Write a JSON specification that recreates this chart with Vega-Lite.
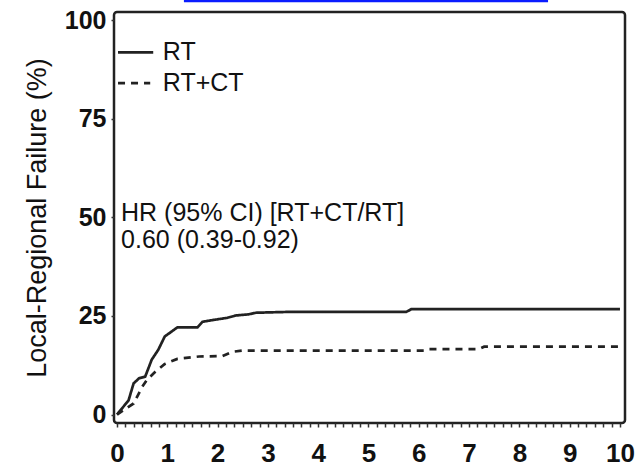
{
  "$schema": "https://vega.github.io/schema/vega-lite/v6.json",
  "width": 511,
  "height": 411,
  "autosize": {"type": "none"},
  "padding": {"left": 114, "top": 12, "right": 16, "bottom": 46},
  "background": "white",
  "config": {
    "view": {"stroke": "#222", "strokeWidth": 2.5, "cornerRadius": 3},
    "font": "Liberation Sans"
  },
  "datasets": {
    "curves": [
      {"group": "RT", "t": 0, "pct": 0},
      {"group": "RT", "t": 0.23, "pct": 3.6},
      {"group": "RT", "t": 0.33, "pct": 7.9},
      {"group": "RT", "t": 0.44, "pct": 9.2},
      {"group": "RT", "t": 0.56, "pct": 9.6},
      {"group": "RT", "t": 0.69, "pct": 13.9},
      {"group": "RT", "t": 0.82, "pct": 16.4},
      {"group": "RT", "t": 0.95, "pct": 19.8},
      {"group": "RT", "t": 1.05, "pct": 20.7},
      {"group": "RT", "t": 1.2, "pct": 22.1},
      {"group": "RT", "t": 1.6, "pct": 22.1},
      {"group": "RT", "t": 1.7, "pct": 23.5},
      {"group": "RT", "t": 1.93, "pct": 24.0},
      {"group": "RT", "t": 2.19, "pct": 24.5},
      {"group": "RT", "t": 2.36, "pct": 25.1},
      {"group": "RT", "t": 2.62, "pct": 25.4},
      {"group": "RT", "t": 2.76, "pct": 25.8},
      {"group": "RT", "t": 3.36, "pct": 26.0},
      {"group": "RT", "t": 5.75, "pct": 26.0},
      {"group": "RT", "t": 5.85, "pct": 26.7},
      {"group": "RT", "t": 10, "pct": 26.7},
      {"group": "RT+CT", "t": 0, "pct": 0},
      {"group": "RT+CT", "t": 0.15, "pct": 1.3},
      {"group": "RT+CT", "t": 0.33, "pct": 2.8},
      {"group": "RT+CT", "t": 0.44, "pct": 5.5},
      {"group": "RT+CT", "t": 0.5, "pct": 7.0},
      {"group": "RT+CT", "t": 0.59, "pct": 8.7},
      {"group": "RT+CT", "t": 0.74, "pct": 10.6},
      {"group": "RT+CT", "t": 0.95, "pct": 12.8},
      {"group": "RT+CT", "t": 1.2, "pct": 14.1},
      {"group": "RT+CT", "t": 1.63, "pct": 14.7},
      {"group": "RT+CT", "t": 2.09, "pct": 14.8},
      {"group": "RT+CT", "t": 2.29, "pct": 15.9},
      {"group": "RT+CT", "t": 2.49, "pct": 16.2},
      {"group": "RT+CT", "t": 6.1, "pct": 16.2},
      {"group": "RT+CT", "t": 6.2, "pct": 16.6},
      {"group": "RT+CT", "t": 7.2, "pct": 16.6},
      {"group": "RT+CT", "t": 7.3, "pct": 17.2},
      {"group": "RT+CT", "t": 10, "pct": 17.2}
    ],
    "legend": [
      {"group": "RT", "x0": 0.02, "x1": 0.72, "xt": 0.91, "y": 91.8},
      {"group": "RT+CT", "x0": 0.02, "x1": 0.66, "xt": 0.91, "y": 84.0}
    ],
    "notes": [
      {"x": 0.08, "y": 51.2, "label": "HR (95% CI) [RT+CT/RT]"},
      {"x": 0.08, "y": 44.2, "label": "0.60 (0.39-0.92)"}
    ],
    "link": [{"x0": 1.33, "x1": 8.57, "y": 104.8}]
  },
  "layer": [
    {
      "data": {"name": "curves"},
      "mark": {"type": "line", "strokeWidth": 2.7, "color": "#222"},
      "encoding": {
        "x": {
          "field": "t",
          "type": "quantitative",
          "scale": {"domain": [-0.06, 10.1], "nice": false, "zero": false},
          "axis": {
            "title": null,
            "grid": false,
            "domain": false,
            "tickCount": 200,
            "values": [0,0.1667,0.3333,0.5,0.6667,0.8333,1,1.1667,1.3333,1.5,1.6667,1.8333,2,2.1667,2.3333,2.5,2.6667,2.8333,3,3.1667,3.3333,3.5,3.6667,3.8333,4,4.1667,4.3333,4.5,4.6667,4.8333,5,5.1667,5.3333,5.5,5.6667,5.8333,6,6.1667,6.3333,6.5,6.6667,6.8333,7,7.1667,7.3333,7.5,7.6667,7.8333,8,8.1667,8.3333,8.5,8.6667,8.8333,9,9.1667,9.3333,9.5,9.6667,9.8333,10],
            "labelExpr": "abs(datum.value - round(datum.value)) < 0.01 ? format(round(datum.value), 'd') : ''",
            "labelOverlap": false,
            "labelFlush": false,
            "labelFont": "Liberation Sans",
            "labelFontSize": 26,
            "labelFontWeight": "bold",
            "labelColor": "#111",
            "labelPadding": 13,
            "tickSize": 4,
            "tickWidth": 1.5,
            "tickColor": "#333"
          }
        },
        "y": {
          "field": "pct",
          "type": "quantitative",
          "scale": {"domain": [-2.15, 102.03], "nice": false, "zero": false},
          "axis": {
            "title": "Local-Regional Failure (%)",
            "titleFont": "Liberation Sans",
            "titleFontSize": 27,
            "titleFontWeight": "normal",
            "titleColor": "#111",
            "titlePadding": 13,
            "grid": false,
            "domain": false,
            "values": [0, 25, 50, 75, 100],
            "labelFont": "Liberation Sans",
            "labelFontSize": 25,
            "labelFontWeight": "bold",
            "labelColor": "#111",
            "labelPadding": 5,
            "labelFlush": false,
            "tickSize": 3,
            "tickWidth": 1.5,
            "tickColor": "#333"
          }
        },
        "strokeDash": {
          "field": "group",
          "type": "nominal",
          "scale": {"domain": ["RT", "RT+CT"], "range": [[1, 0], [7, 6]]},
          "legend": null
        }
      }
    },
    {
      "data": {"name": "legend"},
      "mark": {"type": "rule", "strokeWidth": 2.7, "color": "#222"},
      "encoding": {
        "x": {"field": "x0", "type": "quantitative"},
        "x2": {"field": "x1"},
        "y": {"field": "y", "type": "quantitative"},
        "strokeDash": {
          "field": "group",
          "type": "nominal",
          "scale": {"domain": ["RT", "RT+CT"], "range": [[1, 0], [7, 6]]},
          "legend": null
        }
      }
    },
    {
      "data": {"name": "legend"},
      "mark": {"type": "text", "align": "left", "baseline": "middle", "font": "Liberation Sans", "fontSize": 25, "color": "#111"},
      "encoding": {
        "x": {"field": "xt", "type": "quantitative"},
        "y": {"field": "y", "type": "quantitative"},
        "text": {"field": "group"}
      }
    },
    {
      "data": {"name": "notes"},
      "mark": {"type": "text", "align": "left", "baseline": "middle", "font": "Liberation Sans", "fontSize": 25, "color": "#111"},
      "encoding": {
        "x": {"field": "x", "type": "quantitative"},
        "y": {"field": "y", "type": "quantitative"},
        "text": {"field": "label"}
      }
    },
    {
      "data": {"name": "link"},
      "mark": {"type": "rule", "strokeWidth": 2.5, "color": "#0a1cff", "clip": false},
      "encoding": {
        "x": {"field": "x0", "type": "quantitative"},
        "x2": {"field": "x1"},
        "y": {"field": "y", "type": "quantitative"}
      }
    }
  ]
}
